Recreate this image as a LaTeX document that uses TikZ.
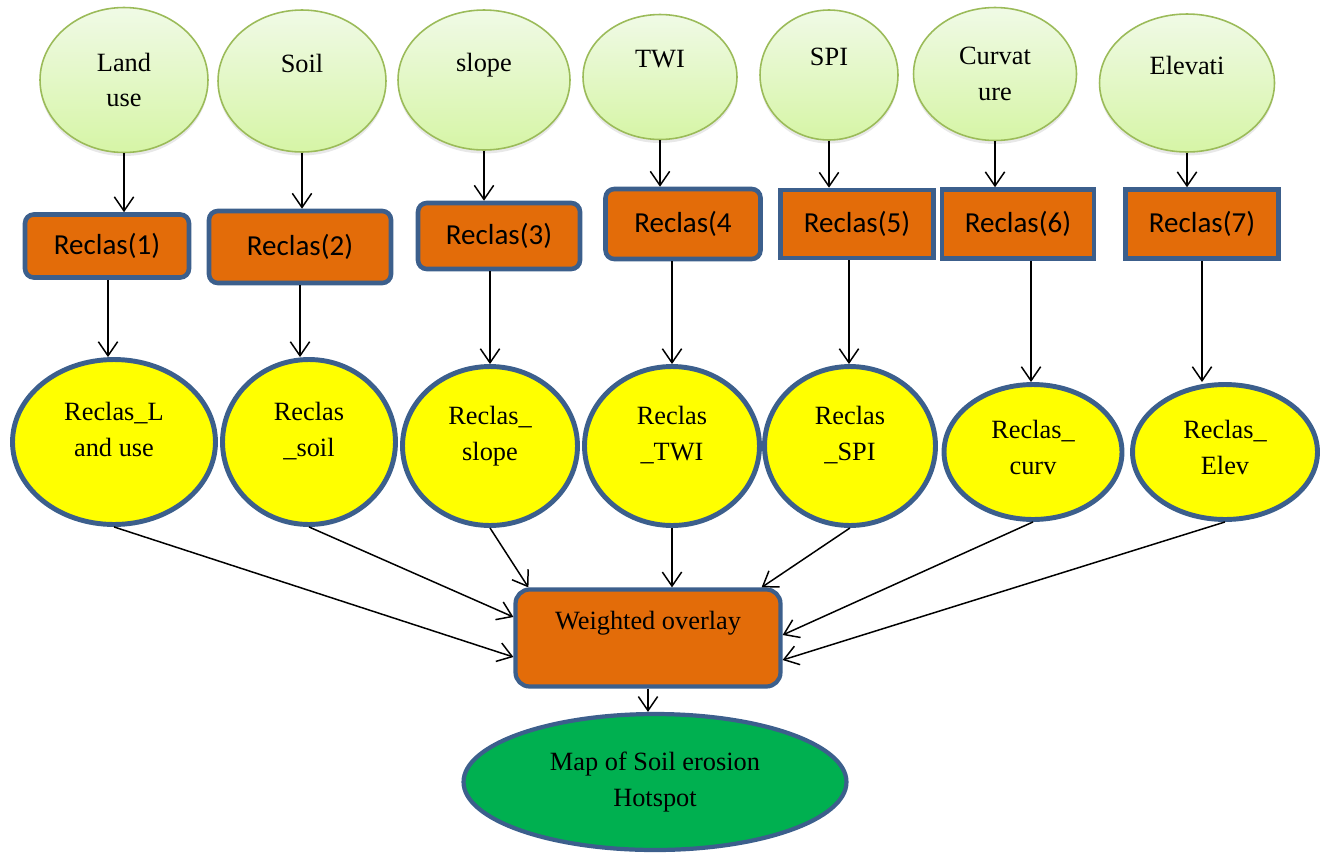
\documentclass[tikz,border=0pt]{standalone}
\usepackage{fontspec}
\setmainfont{Liberation Serif}
\newfontfamily\calfont{Carlito}
\usetikzlibrary{shapes.geometric, arrows.meta, calc, shadows}
\definecolor{lgtop}{RGB}{240,250,230}
\definecolor{lgbot}{RGB}{214,245,166}
\definecolor{lgline}{RGB}{155,187,89}
\definecolor{rorange}{RGB}{227,108,9}
\definecolor{rblue}{RGB}{60,95,140}
\definecolor{ryellow}{RGB}{255,255,0}
\definecolor{rgreen}{RGB}{0,176,80}
\newcommand{\twol}[2]{\begin{tabular}{@{}c@{}}#1\\#2\end{tabular}}

\begin{document}
\begin{tikzpicture}[
  x=0.02cm,y=-0.02cm,
  font=\fontsize{15}{20.4}\selectfont,
  src/.style={ellipse,draw=lgline,line width=0.9pt,top color=lgtop,bottom color=lgbot,
              drop shadow={shadow xshift=0pt,shadow yshift=-2pt,opacity=.18},
              inner sep=0pt,align=center},
  recl/.style={draw=rblue,line width=2.6pt,fill=rorange,rounded corners=5pt,
               font=\calfont\fontsize{16.5}{20}\selectfont,inner sep=0pt},
  reclsq/.style={recl,sharp corners},
  rmap/.style={ellipse,draw=rblue,line width=2.8pt,fill=ryellow,inner sep=0pt,
               text height=17.85pt,text depth=22.95pt},
  rmaplow/.style={rmap,text height=22.45pt,text depth=18.35pt},
  wov/.style={draw=rblue,line width=2.4pt,fill=rorange,rounded corners=8pt,
              minimum width=5.3cm,minimum height=1.94cm,align=center},
  outp/.style={ellipse,draw=rblue,line width=2.4pt,fill=rgreen,inner sep=0pt,align=center},
  arr/.style={-{Straight Barb[length=8pt,width=11pt]},line width=0.85pt}
]
  \useasboundingbox (0,0) rectangle (1325,856);

  % input layers
  \node[src,minimum width=3.36cm,minimum height=2.9cm] (e1) at (124,80) {Land\\use};
  \node[src,minimum width=3.36cm,minimum height=2.84cm] (e2) at (302,81) {Soil\\~};
  \node[src,minimum width=3.44cm,minimum height=2.8cm] (e3) at (484,80) {slope\\~};
  \node[src,minimum width=3.08cm,minimum height=2.5cm] (e4) at (660,77) {TWI\\~};
  \node[src,minimum width=2.76cm,minimum height=2.6cm] (e5) at (829,75) {SPI\\~};
  \node[src,minimum width=3.26cm,minimum height=2.66cm] (e6) at (995,74) {Curvat\\ure};
  \node[src,minimum width=3.5cm,minimum height=2.76cm] (e7) at (1187,83) {Elevati\\~};

  % reclassify
  \node[recl,minimum width=3.28cm,minimum height=1.26cm] (r1) at (107,246) {Reclas(1)};
  \node[recl,minimum width=3.64cm,minimum height=1.44cm] (r2) at (300,247) {Reclas(2)};
  \node[recl,minimum width=3.24cm,minimum height=1.32cm] (r3) at (499,236) {Reclas(3)};
  \node[recl,minimum width=3.1cm,minimum height=1.4cm] (r4) at (683,224) {Reclas(4};
  \node[reclsq,minimum width=3.06cm,minimum height=1.36cm] (r5) at (857,224) {Reclas(5)};
  \node[reclsq,minimum width=3.04cm,minimum height=1.38cm] (r6) at (1018,224) {Reclas(6)};
  \node[reclsq,minimum width=3.06cm,minimum height=1.38cm] (r7) at (1202,224) {Reclas(7)};

  % reclassified layers
  \node[rmap,minimum width=4.06cm,minimum height=3.3cm] (c1) at (114,442) {\twol{Reclas\_L}{and use}};
  \node[rmap,minimum width=3.46cm,minimum height=3.3cm] (c2) at (309,442) {\twol{Reclas}{\_soil}};
  \node[rmap,minimum width=3.5cm,minimum height=3.18cm] (c3) at (490,446) {\twol{Reclas\_}{slope}};
  \node[rmap,minimum width=3.5cm,minimum height=3.18cm] (c4) at (672,446) {\twol{Reclas}{\_TWI}};
  \node[rmap,minimum width=3.42cm,minimum height=3.18cm] (c5) at (850,446) {\twol{Reclas}{\_SPI}};
  \node[rmaplow,minimum width=3.56cm,minimum height=2.7cm] (c6) at (1033,452) {\twol{Reclas\_}{curv}};
  \node[rmaplow,minimum width=3.7cm,minimum height=2.7cm] (c7) at (1225,452) {\twol{Reclas\_}{Elev}};

  \node[wov] (wo) at (648,638) {Weighted overlay\\~};
  \node[outp,minimum width=7.66cm,minimum height=2.72cm] (map) at (655,782) {Map of Soil erosion\\Hotspot};

  \foreach \i/\xl in {1/108,2/300,3/490,4/672,5/849,6/1031,7/1202}{
    \draw[arr] (e\i.south) -- (e\i.south |- r\i.north);
    \draw[arr] (\xl,0 |- r\i.south) -- (\xl,0 |- c\i.north);
  }

  \draw[arr] (c1.south) -- ($(wo.west)+(0,19)$);
  \draw[arr] (c2.south) -- ($(wo.west)+(0,-21)$);
  \draw[arr] (c3.south) -- ($(wo.north west)+(15,0)$);
  \draw[arr] (c4.south) -- (c4.south |- wo.north);
  \draw[arr] (c5.south) -- ($(wo.north east)+(-21,0)$);
  \draw[arr] (c6.south) -- ($(wo.east)+(0,-3)$);
  \draw[arr] (c7.south) -- ($(wo.east)+(0,22)$);
  \draw[arr] (wo.south) -- (wo.south |- map.north);
\end{tikzpicture}
\end{document}
